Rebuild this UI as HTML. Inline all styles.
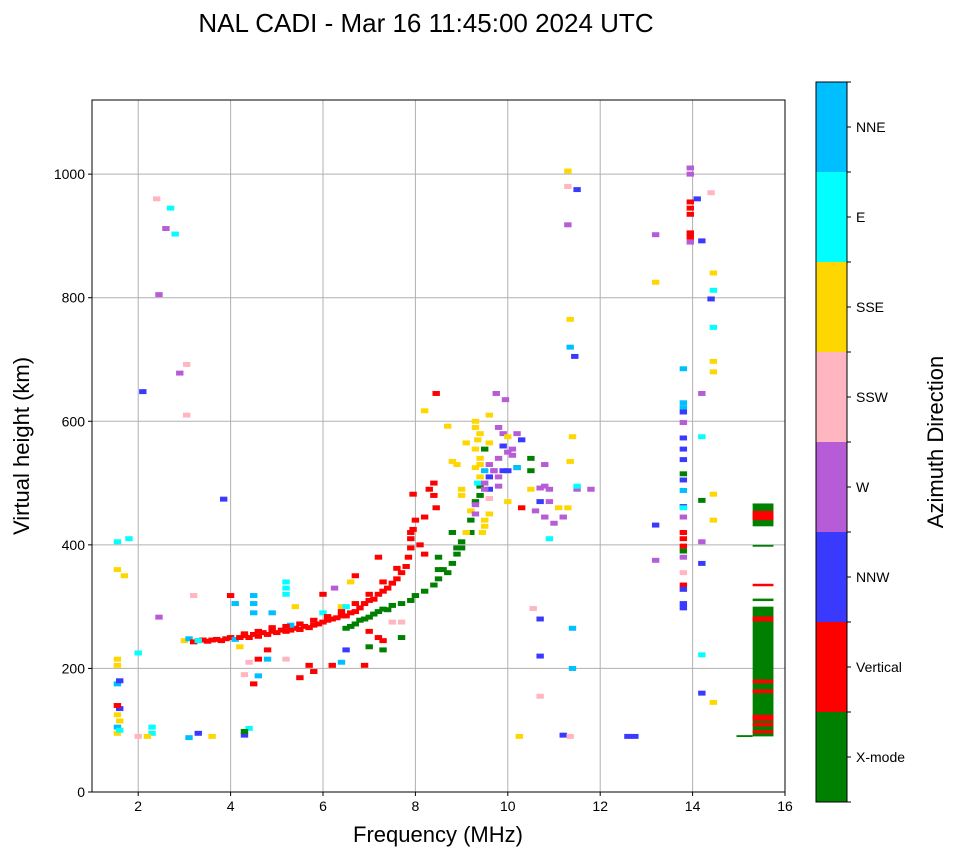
<!DOCTYPE html>
<html><head><meta charset="utf-8"><style>
body{margin:0;background:#fff;}
svg{display:block;font-family:"Liberation Sans",sans-serif;}
</style></head><body>
<svg id="c" width="958" height="857"></svg>
<script>
const categories=["X-mode","Vertical","NNW","W","SSW","SSE","E","NNE"];
const catColors=["#008000","#ff0000","#3a3aff","#b65cd6","#ffb6c1","#ffd700","#00ffff","#00bfff"];
const xTicks=[2,4,6,8,10,12,14,16];
const yTicks=[0,200,400,600,800,1000];
const freq=[1.55,1.55,1.6,1.55,1.6,1.55,1.6,1.55,1.6,1.55,1.55,1.55,1.55,1.8,1.7,2.3,2.3,2.2,2.0,2.0,2.4,2.7,2.6,2.8,2.45,2.1,2.9,3.05,3.05,2.45,3.2,3.1,3.3,3.6,3.85,
3.0,3.1,3.2,3.3,3.4,3.5,3.6,3.7,3.8,3.9,4.0,4.1,4.2,4.3,4.4,4.5,4.6,4.7,4.8,4.9,5.0,5.1,5.2,5.3,5.4,5.5,5.6,5.7,5.8,5.9,6.0,6.1,6.2,6.3,6.4,6.5,6.6,6.7,6.8,6.9,7.0,7.1,7.2,7.3,7.4,7.5,7.6,7.7,7.8,7.85,7.9,7.9,7.95,8.0,8.2,8.1,8.2,8.4,8.4,8.45,8.45,7.95,
4.1,4.0,4.5,4.5,4.5,4.9,5.2,5.2,5.2,5.4,4.3,4.5,4.6,4.8,4.6,4.8,5.2,5.5,5.7,5.8,6.2,6.4,6.5,6.9,6.0,6.25,6.6,6.7,7.2,7.0,7.2,7.0,7.3,7.5,7.4,7.7,6.0,6.4,4.4,4.3,4.3,3.3,4.2,4.4,5.3,6.5,
6.5,6.6,6.7,6.8,6.9,7.0,7.1,7.2,7.3,7.5,7.7,7.9,8.0,8.2,8.4,8.5,8.5,8.7,8.8,8.9,9.0,9.0,9.2,9.2,9.3,9.4,9.4,8.8,8.5,7.7,7.3,9.5,10.2,10.5,10.5,
9.3,9.3,9.4,9.35,9.3,9.4,9.3,9.4,9.35,9.5,9.5,9.6,9.6,9.7,9.8,9.8,9.9,9.9,10.0,10.0,10.1,10.2,10.2,10.3,9.6,9.6,9.5,9.5,9.45,9.6,9.0,9.0,8.9,9.1,9.3,9.2,9.6,9.75,9.95,9.6,8.7,8.8,9.8,10.0,10.3,10.5,10.8,10.8,10.7,10.9,10.9,10.8,11.0,11.2,11.1,11.3,11.5,11.5,11.8,11.35,11.4,10.9,10.7,10.7,10.7,10.55,10.25,11.2,11.35,11.4,11.4,12.6,12.75,13.2,13.2,13.2,13.2,11.3,11.3,11.5,11.3,11.35,11.35,11.45,8.2,10.7,10.6,
13.8,13.8,13.8,13.8,13.8,13.8,13.8,13.8,13.8,13.8,13.8,13.8,13.8,13.8,13.8,13.8,13.8,13.8,13.8,13.8,13.8,13.8,13.8,13.8,
13.95,13.95,13.95,13.95,13.95,13.95,13.95,13.95,14.1,14.2,14.2,14.2,14.2,14.2,14.2,14.2,14.2,14.4,14.45,14.45,14.4,14.45,14.45,14.45,14.45,14.45,14.45,
4.3,4.6,4.9,5.2,5.5,5.8,6.1,6.4,6.7,7.0,7.3,7.6,7.9,8.3,8.6,8.9,9.1,9.3,9.5,9.7,9.9,10.1,9.4,9.8,10.0];
const height=[95,105,115,125,135,140,100,175,180,205,215,360,405,410,350,105,95,90,90,225,960,945,912,903,805,648,678,692,610,283,318,88,95,90,474,
245,248,243,245,246,244,246,247,245,248,250,247,250,253,250,255,252,258,255,260,258,262,260,262,265,263,268,266,270,272,275,278,280,282,285,285,290,292,298,305,310,312,320,325,330,338,345,355,365,380,395,410,425,440,445,400,385,480,500,460,645,482,
305,318,318,305,290,290,330,340,320,300,190,175,188,215,215,230,215,185,205,195,205,210,230,205,320,330,340,350,380,260,250,235,245,275,295,275,290,300,103,92,98,245,235,210,270,300,
265,268,272,278,280,283,288,292,296,302,305,310,318,325,335,345,360,355,370,385,395,405,420,440,470,480,495,420,380,250,230,555,525,520,540,
600,590,580,570,555,540,525,510,500,520,500,530,510,520,495,540,560,580,550,520,545,525,580,570,565,450,430,440,420,475,490,480,530,565,465,455,490,645,635,610,592,535,590,470,460,490,530,495,470,490,470,445,435,445,460,460,490,495,490,535,575,410,280,220,155,297,90,92,90,265,200,90,90,432,375,825,902,1005,980,975,918,765,720,705,617,492,455,
685,630,622,615,598,573,555,538,515,505,488,462,445,420,410,398,390,380,355,335,328,305,298,460,
1010,1000,955,945,935,905,898,890,960,892,645,575,405,370,222,160,472,970,840,812,798,752,697,680,482,440,145,
256,260,266,268,272,278,284,292,305,320,340,362,420,490,360,395,420,450,490,520,520,555,530,510,575];
const dir=[5,7,5,5,2,1,6,7,2,5,5,5,6,6,5,6,6,5,4,6,4,6,3,6,3,2,3,4,4,3,4,7,2,5,2,
5,7,1,1,1,1,1,1,1,1,1,7,1,1,1,1,1,1,1,1,1,1,1,1,1,1,1,1,1,1,1,1,1,1,1,1,1,1,1,1,1,1,1,1,1,1,1,1,1,1,1,1,1,1,1,1,1,1,1,1,1,1,
7,1,7,7,7,7,6,6,6,5,4,1,7,7,1,1,4,1,1,1,1,7,2,1,1,3,5,1,1,1,1,0,1,4,0,4,6,5,6,2,0,6,5,4,7,6,
0,0,0,0,0,0,0,0,0,0,0,0,0,0,0,0,0,0,0,0,0,0,0,0,0,0,0,0,0,0,0,0,0,0,0,
5,5,5,5,5,5,5,5,6,7,3,3,2,3,3,3,2,3,3,2,3,7,3,2,5,5,5,5,5,4,5,5,5,5,3,5,2,3,3,5,5,5,3,5,1,5,3,3,2,3,3,3,3,3,5,5,3,6,3,5,5,6,2,2,4,4,5,2,4,7,7,2,2,2,3,5,3,5,4,2,3,5,7,2,5,3,3,
7,7,7,2,3,2,2,2,0,2,7,2,3,1,1,1,0,3,4,1,2,2,2,6,
3,3,1,1,1,1,1,3,2,2,3,6,3,2,6,2,0,4,5,6,2,6,5,5,5,5,5,
1,1,1,1,1,1,1,1,1,1,1,1,1,1,0,0,5,3,3,3,2,3,5,3,5];
const blockF0=[15.3,15.3,15.3,15.3,15.3,15.3,15.3,15.3,15.3,15.3,15.3,15.3,15.3,14.95];
const blockF1=[15.75,15.75,15.75,15.75,15.75,15.75,15.75,15.75,15.75,15.75,15.75,15.75,15.75,15.3];
const blockH0=[90,276,176,160,115,106,95,430,440,397,333,309,465,89];
const blockH1=[300,284,182,166,125,112,100,466,455,400,337,313,467,92];
const blockDir=[0,1,1,1,1,1,1,0,1,0,1,0,0,0];

const NS="http://www.w3.org/2000/svg";
const svg=document.getElementById('c');
const L=92,R=785,T=100,B=792;
const xs=f=>L+(f-1)*(R-L)/15;
const ys=h=>B-h*(B-T)/1120;
function mk(tag,attrs,parent){const e=document.createElementNS(NS,tag);for(const k in attrs)e.setAttribute(k,attrs[k]);(parent||svg).appendChild(e);return e;}
function txt(s,attrs,parent){const e=mk('text',attrs,parent);e.textContent=s;return e;}

const title=txt("NAL CADI - Mar 16 11:45:00 2024 UTC",{x:426,y:32,'text-anchor':'middle','font-size':26});



const grid=mk('g',{});


xTicks.forEach(v=>{if(v<16){mk('line',{x1:xs(v),x2:xs(v),y1:T,y2:B,stroke:'#b0b0b0','stroke-width':1},grid);}});
yTicks.forEach(v=>{if(v>0){mk('line',{x1:L,x2:R,y1:ys(v),y2:ys(v),stroke:'#b0b0b0','stroke-width':1},grid);}});

const marks=mk('g',{});


const w=(R-L)/15*0.16, hh=8*(B-T)/1120;
for(let i=0;i<freq.length;i++){
  const r=mk('rect',{x:xs(freq[i])-w/2,y:ys(height[i])-hh/2,width:w,height:hh,fill:catColors[dir[i]]},marks);
  
  
}
for(let i=0;i<blockF0.length;i++){
  const r=mk('rect',{x:xs(blockF0[i]),y:ys(blockH1[i]),width:xs(blockF1[i])-xs(blockF0[i]),height:ys(blockH0[i])-ys(blockH1[i]),fill:catColors[blockDir[i]]},marks);
  
  
}

const frame=mk('rect',{x:L,y:T,width:R-L,height:B-T,fill:'none',stroke:'#000','stroke-width':1});



const xa=mk('g',{});


xTicks.forEach(v=>{mk('line',{x1:xs(v),x2:xs(v),y1:B,y2:B+4,stroke:'#000'},xa);txt(String(v),{x:xs(v),y:B+19,'text-anchor':'middle','font-size':14},xa);});
const ya=mk('g',{});


yTicks.forEach(v=>{mk('line',{x1:L-4,x2:L,y1:ys(v),y2:ys(v),stroke:'#000'},ya);txt(String(v),{x:L-7,y:ys(v)+5,'text-anchor':'end','font-size':14},ya);});

const xt=txt("Frequency (MHz)",{x:438,y:842,'text-anchor':'middle','font-size':22});


const yt=txt("Virtual height (km)",{x:0,y:0,'text-anchor':'middle','font-size':22,transform:'translate(29,446) rotate(-90)'});



const cb=mk('g',{});


const cbT=82,cbB=802,cbL=816,cbR=847,seg=(cbB-cbT)/categories.length;
categories.forEach((c,i)=>{
  const y0=cbB-(i+1)*seg;
  const r=mk('rect',{x:cbL,y:y0,width:cbR-cbL,height:seg,fill:catColors[i]},cb);
  
  
  mk('line',{x1:cbR,x2:cbR+4,y1:y0+seg/2,y2:y0+seg/2,stroke:'#000'},cb);
  txt(c,{x:cbR+9,y:y0+seg/2+5,'font-size':14},cb);
});
for(let i=0;i<=categories.length;i++){mk('line',{x1:cbR,x2:cbR+4,y1:cbT+i*seg,y2:cbT+i*seg,stroke:'#000'},cb);}
mk('rect',{x:cbL,y:cbT,width:cbR-cbL,height:cbB-cbT,fill:'none',stroke:'#000'},cb);
const ct=txt("Azimuth Direction",{x:0,y:0,'text-anchor':'middle','font-size':22,transform:'translate(943,442) rotate(-90)'});


</script>
</body></html>
